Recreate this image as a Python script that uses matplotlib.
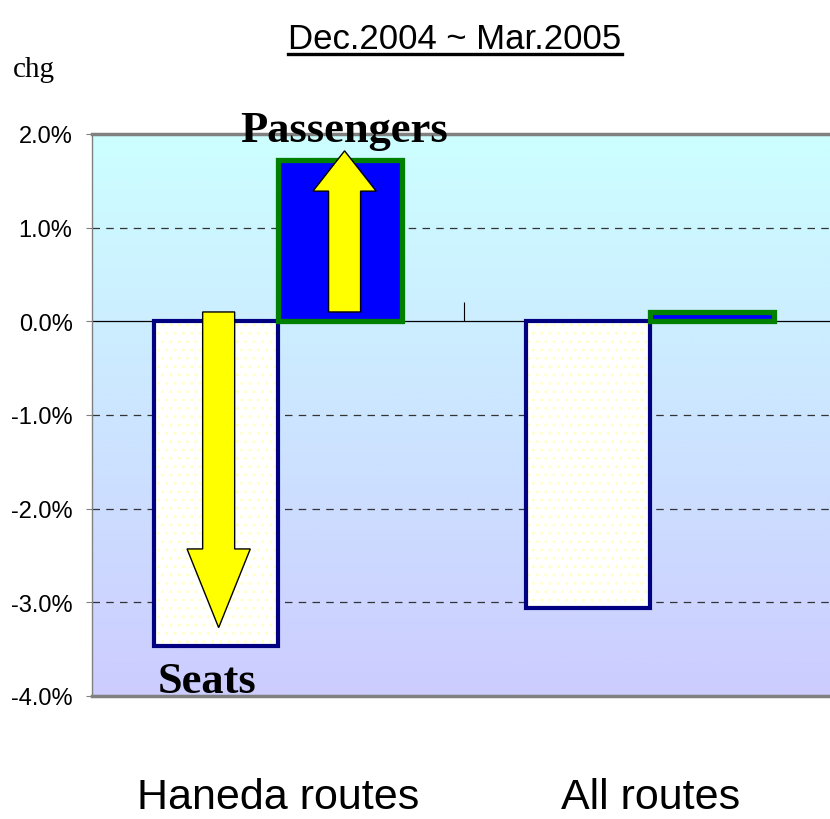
import matplotlib
matplotlib.use("Agg")
import matplotlib.pyplot as plt
import numpy as np
from matplotlib.lines import Line2D
from matplotlib.patches import FancyArrow

TITLE = "Dec.2004 ~ Mar.2005"
Y_LABEL = "chg"
CATEGORIES = ["Haneda routes", "All routes"]
SEATS = [-3.47, -3.06]
PASSENGERS = [1.72, 0.10]
Y_TICKS = [-4.0, -3.0, -2.0, -1.0, 0.0, 1.0, 2.0]
ARROW_BASE = 0.1
SEATS_ARROW_TIP = -3.27
PASSENGERS_ARROW_TIP = 1.82

SANS = ["Liberation Sans", "DejaVu Sans"]
SERIF = ["Liberation Serif", "DejaVu Serif"]

BAR_WIDTH = 1 / 3
NAVY = "#000080"
GREEN = "#008000"
BLUE = "#0000FF"
YELLOW = "#FFFF00"


def draw_background(axis, xlim, ylim):
    gradient = np.linspace(0, 1, 256).reshape(-1, 1)
    top = np.array([204, 255, 255]) / 255
    bottom = np.array([204, 204, 255]) / 255
    colors = top + (bottom - top) * gradient[..., None]
    colors = colors.reshape(256, 1, 3)
    axis.imshow(colors, extent=(xlim[0], xlim[1], ylim[0], ylim[1]),
                aspect="auto", origin="upper", zorder=0)


def draw_arrow(axis, x, y_start, y_end, head_length):
    arrow = FancyArrow(
        x, y_start, 0, y_end - y_start,
        width=0.086, head_width=0.17, head_length=head_length,
        length_includes_head=True,
        facecolor=YELLOW, edgecolor="black", linewidth=1.0, zorder=6,
    )
    axis.add_patch(arrow)


def main():
    plt.rcParams["hatch.linewidth"] = 1.0
    figure = plt.figure(figsize=(8.3, 8.2), dpi=100)
    axis = figure.add_axes([92 / 830, 1 - 697 / 820, 1 - 92 / 830, (697 - 135) / 820])

    xlim = (-0.5, 1.483)
    ylim = (-4.0, 2.0)
    draw_background(axis, xlim, ylim)
    axis.set_xlim(*xlim)
    axis.set_ylim(*ylim)

    x = np.arange(len(CATEGORIES))
    seat_x = x - BAR_WIDTH / 2
    pax_x = x + BAR_WIDTH / 2

    for value in Y_TICKS[1:-1]:
        if value == 0:
            axis.axhline(value, color="black", linewidth=0.9, zorder=2)
        else:
            axis.axhline(value, color="#333333", linewidth=0.9,
                         linestyle=(0, (6, 5)), zorder=2)

    # seats: white with faint yellow dots, navy frame
    axis.bar(seat_x, SEATS, BAR_WIDTH, color="white", edgecolor="#FFFFC8",
             linewidth=0, hatch="..", zorder=3)
    axis.bar(seat_x, SEATS, BAR_WIDTH, fill=False, edgecolor=NAVY,
             linewidth=3.0, zorder=4)
    axis.bar(pax_x, PASSENGERS, BAR_WIDTH, color=BLUE, edgecolor=GREEN,
             linewidth=3.8, zorder=4)

    # category separator tick
    axis.vlines(x[:-1] + 0.5, 0, 0.21, color="black", linewidth=0.8, zorder=3)

    draw_arrow(axis, seat_x[0] + 0.007, ARROW_BASE, SEATS_ARROW_TIP, 0.84)
    draw_arrow(axis, pax_x[0] + 0.012, ARROW_BASE, PASSENGERS_ARROW_TIP, 0.43)

    axis.text(pax_x[0] + 0.01, 1.93, "Passengers", family=SERIF, fontweight="bold",
              fontsize=32, ha="center", va="baseline", zorder=7)
    axis.text(seat_x[0] - 0.025, -3.96, "Seats", family=SERIF, fontweight="bold",
              fontsize=32, ha="center", va="baseline", zorder=7)

    axis.set_yticks(Y_TICKS)
    axis.set_yticklabels([f"{v:.1f}%" for v in Y_TICKS], family=SANS, fontsize=17)
    axis.tick_params(axis="y", length=4, width=0.8, color="#808080", pad=10)
    axis.set_xticks(x)
    axis.set_xticklabels(CATEGORIES, family=SANS, fontsize=31)
    axis.tick_params(axis="x", length=0, pad=58)

    for side in ("top", "bottom"):
        axis.spines[side].set_color("#808080")
        axis.spines[side].set_linewidth(2.5)
        axis.spines[side].set_zorder(5)
    axis.spines["left"].set_color("#808080")
    axis.spines["left"].set_linewidth(1.0)
    axis.spines["right"].set_visible(False)

    title = figure.text(455 / 830, 1 - 49 / 820, TITLE, family=SANS, fontsize=25,
                        ha="center", va="baseline")
    figure.text(13 / 830, 1 - 77 / 820, Y_LABEL, family=SERIF, fontsize=21,
                va="baseline")

    figure.canvas.draw()
    box = title.get_window_extent().transformed(figure.transFigure.inverted())
    underline_y = 1 - 55 / 820
    figure.add_artist(Line2D([box.x0, box.x1], [underline_y, underline_y],
                             color="black", linewidth=2.4,
                             transform=figure.transFigure))

    figure.savefig("out.png", dpi=100)
    plt.close(figure)


if __name__ == "__main__":
    main()
